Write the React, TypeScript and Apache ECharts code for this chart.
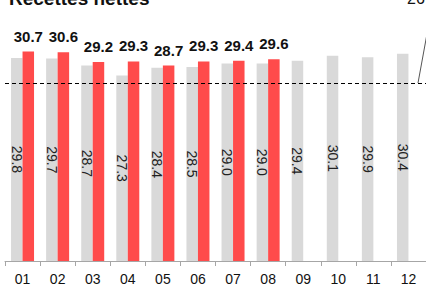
import React, { useEffect, useRef } from "react";
import * as echarts from "echarts";

const months = ["01", "02", "03", "04", "05", "06", "07", "08", "09", "10", "11", "12"];
const priorYear = [29.8, 29.7, 28.7, 27.3, 28.4, 28.5, 29.0, 29.0, 29.4, 30.1, 29.9, 30.4];
const currentYear: (number | null)[] = [30.7, 30.6, 29.2, 29.3, 28.7, 29.3, 29.4, 29.6, null, null, null, null];
const referenceValue = 26.25;
const referenceLabel = "26";
const titleText = "Recettes nettes";

const FONT = "'Liberation Sans', Arial, sans-serif";

export default function App() {
  const ref = useRef<HTMLDivElement>(null);
  useEffect(() => {
    if (!ref.current) return;
    const chart = echarts.init(ref.current, null, { renderer: "svg" });
    chart.setOption({
      animation: false,
      textStyle: { fontFamily: FONT },
      grid: { left: 5, width: 426, top: 35.4, bottom: 24, containLabel: false },
      xAxis: {
        type: "category",
        data: months,
        axisLine: { show: true, lineStyle: { color: "#A6A6A6", width: 1 } },
        axisTick: { show: true, length: 5, lineStyle: { color: "#A6A6A6" } },
        axisLabel: { color: "#111", fontSize: 14, margin: 11, fontFamily: FONT },
      },
      yAxis: {
        type: "value",
        min: 0.9,
        max: 33,
        show: false,
        splitLine: { show: false },
      },
      series: [
        {
          type: "bar",
          data: priorYear,
          barWidth: 11.5,
          barGap: "0%",
          itemStyle: { color: "#D9D9D9" },
          label: {
            show: true,
            position: "inside",
            rotate: -90,
            color: "#222",
            fontSize: 14,
            fontFamily: FONT,
            formatter: (p: any) => Number(p.value).toFixed(1),
          },
          markLine: {
            silent: true,
            symbol: "none",
            label: { show: false },
            lineStyle: { color: "#000", type: [4, 3], width: 1 },
            data: [{ yAxis: referenceValue }],
          },
        },
        {
          type: "bar",
          data: currentYear,
          barWidth: 11.5,
          barGap: "0%",
          itemStyle: { color: "#FF4B4B" },
          label: {
            show: true,
            position: "top",
            distance: 8,
            color: "#111",
            fontSize: 15,
            fontWeight: "bold",
            fontFamily: FONT,
            formatter: (p: any) => Number(p.value).toFixed(1),
          },
        },
      ],
      graphic: [
        {
          type: "text",
          left: 9,
          top: -11,
          style: { text: titleText, fill: "#111", font: `bold 19px ${FONT}` },
        },
        {
          type: "text",
          x: 407,
          y: -10,
          style: { text: referenceLabel, font: `16px ${FONT}`, fill: "#111" },
        },
        {
          type: "line",
          shape: { x1: 418, y1: 83, x2: 431, y2: 12 },
          style: { stroke: "#555", lineWidth: 1 },
        },
      ],
    });
    return () => chart.dispose();
  }, []);
  return <div ref={ref} style={{ position: "absolute", left: 0, top: 0, width: 426, height: 286 }} />;
}
